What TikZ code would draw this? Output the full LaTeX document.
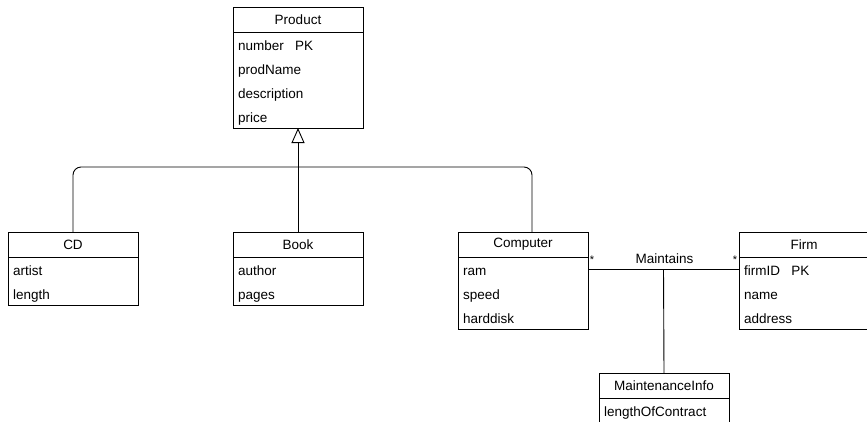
\documentclass[tikz,border=0pt]{standalone}
\usepackage{fontspec}
\setmainfont{Liberation Sans}
\usetikzlibrary{calc,positioning,arrows.meta}

\tikzset{
  classhead/.style={draw, line width=0.9pt, minimum width=130, minimum height=25,
    inner sep=0pt, outer sep=0pt, anchor=north west, font=\fontsize{13.5}{16}\selectfont},
  classbody/.style={draw, line width=0.9pt, minimum width=130, inner sep=0pt, outer sep=0pt,
    anchor=north west},
  attr/.style={inner sep=0pt, anchor=base west, font=\fontsize{13.5}{16}\selectfont},
  link/.style={line width=0.9pt},
  generalize/.style={link, -{Triangle[open, length=15pt, width=13pt]}},
  multi/.style={inner sep=0pt, font=\fontsize{11}{13}\selectfont},
}

% name, top left corner, title, number of rows, rows
\newcommand{\umlclass}[5]{%
  \node[classhead] (#1) at (#2) {#3};
  \node[classbody, minimum height={24*#4}] (#1-body) at (#1.south west) {};
  \foreach \attrtext [count=\i] in {#5}
    \node[attr] (#1-\i) at ($(#1-body.north west)+(5,{24*\i-6})$) {\attrtext};
}

\begin{document}
\begin{tikzpicture}[x=1pt, y=-1pt]
  \useasboundingbox (0,0) rectangle (867,421);

  %%% classes
  \umlclass{product}{233,7}{Product}{4}{number\ \ \ PK, prodName, description, price}
  \umlclass{cd}{8,232}{CD}{2}{artist, length}
  \umlclass{book}{233,232}{Book}{2}{author, pages}
  \umlclass{computer}{458,232}{Computer}{3}{ram, speed, harddisk}
  \umlclass{firm}{739,232}{Firm}{3}{firmID\ \ \ PK, name, address}
  \umlclass{maint}{599,373}{MaintenanceInfo}{1}{lengthOfContract}

  %%% generalization
  \coordinate (bus) at (book.north |- 0,167);
  \draw[generalize] (book.north) -- (product-body.south);
  \draw[link, rounded corners=8] (cd.north) |- (bus) -| ($(computer.north west)+(74,0)$);

  %%% association
  \coordinate (mleft) at ($(computer-body.north east)+(0,12)$);
  \coordinate (mright) at ($(firm-body.north west)+(0,12)$);
  \coordinate (mmid) at ($(mleft)!0.5!(mright)$);
  \draw[link] (mleft) -- (mright);
  \draw[link] (mmid) -- (maint.north);
  \node[attr, anchor=base] (maintains) at ($(mmid)+(1,-6)$) {Maintains};
  \node[multi] (star-l) at ($(mleft)+(4,-9)$) {*};
  \node[multi] (star-r) at ($(mright)+(-4,-9)$) {*};
\end{tikzpicture}
\end{document}
